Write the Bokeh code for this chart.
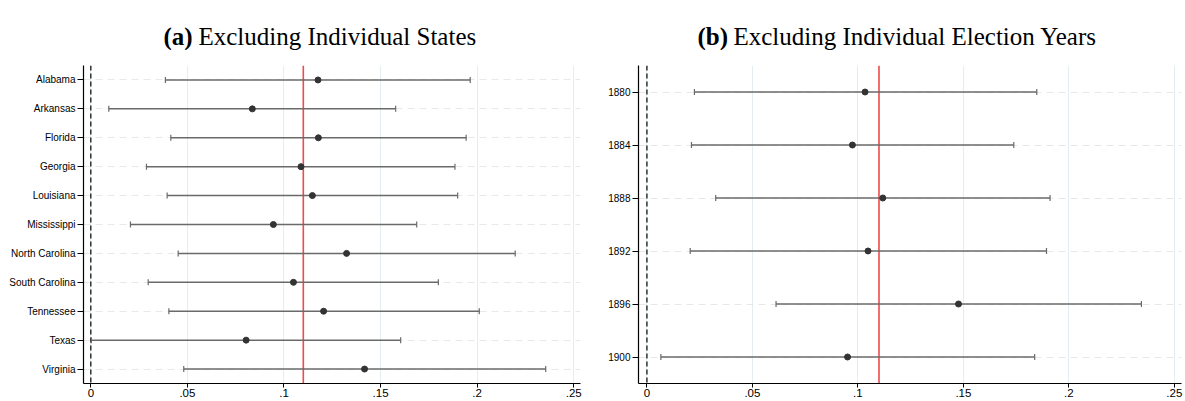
from bokeh.plotting import figure
from bokeh.models import Range1d, FixedTicker, Whisker, Span, ColumnDataSource, TeeHead
from bokeh.core.properties import value
from bokeh.layouts import row, column
from bokeh.embed import file_html
from bokeh.resources import INLINE

# ---- data ----
states = ["Alabama", "Arkansas", "Florida", "Georgia", "Louisiana", "Mississippi",
          "North Carolina", "South Carolina", "Tennessee", "Texas", "Virginia"]
state_est = [0.1176, 0.0836, 0.1178, 0.1088, 0.1147, 0.0945, 0.1324, 0.1049, 0.1205, 0.0804, 0.1417]
state_lo = [0.0386, 0.0093, 0.0414, 0.0288, 0.0395, 0.0205, 0.0452, 0.0297, 0.0404, 0.0003, 0.0481]
state_hi = [0.1964, 0.1578, 0.1943, 0.1885, 0.1899, 0.1687, 0.2197, 0.1799, 0.2011, 0.1604, 0.2355]

years = ["1880", "1884", "1888", "1892", "1896", "1900"]
year_est = [0.1034, 0.0974, 0.1118, 0.1048, 0.1477, 0.0951]
year_lo = [0.0225, 0.0211, 0.0326, 0.0205, 0.0612, 0.0066]
year_hi = [0.1848, 0.1739, 0.1911, 0.1894, 0.2344, 0.1838]

full_sample_est = 0.11
x_ticks = [0, 0.05, 0.1, 0.15, 0.2, 0.25]
x_tick_labels = ["0", ".05", ".1", ".15", ".2", ".25"]

panel_a_tag, panel_a_title = "(a)", "Excluding Individual States"
panel_b_tag, panel_b_title = "(b)", "Excluding Individual Election Years"

SANS = "Liberation Sans"
SERIF = "Liberation Serif"
TITLE_H = 50


def make_title(frame_w, border_l, border_r, tag, title, tag_x, title_x):
    t = figure(frame_width=frame_w, frame_height=TITLE_H,
               min_border_left=border_l, min_border_right=border_r,
               min_border_top=0, min_border_bottom=0,
               x_range=Range1d(0, frame_w), y_range=Range1d(TITLE_H, 0),
               x_axis_type=None, y_axis_type=None,
               output_backend="svg", toolbar_location=None,
               background_fill_color="white", border_fill_color="white")
    t.outline_line_color = None
    t.grid.visible = False
    t.text(x=[tag_x], y=[36], text=[tag], text_font=value(SERIF), text_font_size="25px",
           text_font_style="bold", text_color="black", text_baseline="alphabetic")
    t.text(x=[title_x], y=[36], text=[title], text_font=value(SERIF), text_font_size="25px",
           text_color="black", text_baseline="alphabetic")
    return t


def make_panel(labels, est, lo, hi, frame_w, border_l, border_r, x_lo, x_hi):
    n = len(labels)
    pos = list(range(1, n + 1))
    p = figure(frame_width=frame_w, frame_height=318,
               min_border_left=border_l, min_border_right=border_r,
               min_border_top=65 - TITLE_H, min_border_bottom=18,
               x_range=Range1d(x_lo, x_hi), y_range=Range1d(n + 0.5, 0.5),
               output_backend="svg", toolbar_location=None,
               background_fill_color="white", border_fill_color="white")
    p.outline_line_color = None

    # axes
    p.xaxis.ticker = FixedTicker(ticks=x_ticks)
    p.xaxis.major_label_overrides = {t: l for t, l in zip(x_ticks, x_tick_labels)}
    p.yaxis.ticker = FixedTicker(ticks=pos)
    p.yaxis.major_label_overrides = {i: l for i, l in zip(pos, labels)}
    for ax in (p.xaxis[0], p.yaxis[0]):
        ax.axis_line_color = "black"
        ax.axis_line_width = 1.2
        ax.major_tick_line_color = "black"
        ax.major_tick_in = 0
        ax.minor_tick_line_color = None
        ax.major_label_text_color = "black"
        ax.major_label_text_font = SANS
    p.xaxis.major_tick_out = 4
    p.xaxis.major_label_standoff = 1
    p.xaxis.major_label_text_font_size = "11.5px"
    p.yaxis.major_tick_out = 6
    p.yaxis.major_label_standoff = 2
    p.yaxis.major_label_text_font_size = "10px"

    # grids
    p.xgrid.ticker = FixedTicker(ticks=x_ticks)
    p.xgrid.grid_line_color = "#e3eef0"
    p.xgrid.grid_line_width = 1
    p.ygrid.ticker = FixedTicker(ticks=pos)
    p.ygrid.grid_line_color = "#e8e8e8"
    p.ygrid.grid_line_dash = "7 5"
    p.ygrid.grid_line_width = 1

    # reference lines
    p.add_layout(Span(location=0, dimension="height", line_color="black",
                      line_dash="5 3", line_width=1.2, level="underlay"))
    p.add_layout(Span(location=full_sample_est, dimension="height",
                      line_color="#ee4b4b", line_width=1.6, level="underlay"))

    src = ColumnDataSource(dict(y=pos, est=est, lo=lo, hi=hi))
    w = Whisker(source=src, base="y", lower="lo", upper="hi", dimension="width",
                line_color="#6a6a6a", line_width=1.5,
                lower_head=TeeHead(size=6, line_color="#6a6a6a", line_width=1.2),
                upper_head=TeeHead(size=6, line_color="#6a6a6a", line_width=1.2))
    p.add_layout(w)
    p.scatter("est", "y", source=src, size=6, color="#333333")
    return p


pa = make_panel(states, state_est, state_lo, state_hi, 497, 83, 10, -0.0038, 0.2535)
pb = make_panel(years, year_est, year_lo, year_hi, 543, 48, 3, -0.004, 0.2534)
ta = make_title(497, 83, 10, panel_a_tag, panel_a_title, 80, 115)
tb = make_title(543, 48, 3, panel_b_tag, panel_b_title, 59, 95)

layout = row(column(ta, pa, spacing=0), column(tb, pb, spacing=0), spacing=0)
open("out.html", "w").write(file_html(layout, INLINE))
